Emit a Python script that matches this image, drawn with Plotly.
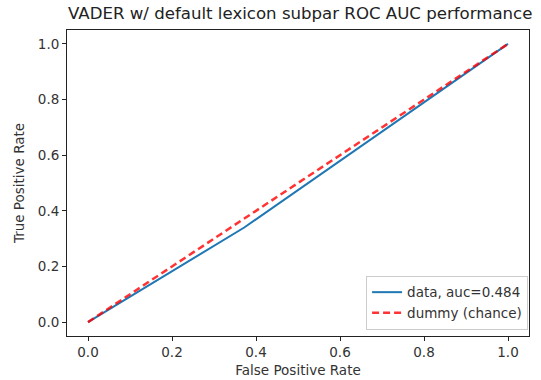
import plotly.graph_objects as go

# data
fpr = [0.0, 0.372, 1.0]
tpr = [0.0, 0.340, 1.0]
dummy_x = [0.0, 1.0]
dummy_y = [0.0, 1.0]
auc_label = "data, auc=0.484"
dummy_label = "dummy (chance)"
title = "VADER w/ default lexicon subpar ROC AUC performance"
tick_vals = [0.0, 0.2, 0.4, 0.6, 0.8, 1.0]
tick_text = ["0.0", "0.2", "0.4", "0.6", "0.8", "1.0"]

font = "DejaVu Sans"
fig = go.Figure()
fig.add_trace(go.Scatter(x=fpr, y=tpr, mode="lines", name=auc_label,
                         line=dict(color="#1f77b4", width=2)))
fig.add_trace(go.Scatter(x=dummy_x, y=dummy_y, mode="lines", name=dummy_label,
                         line=dict(color="rgba(255,0,0,0.8)", width=2.5, dash="7px,4px")))

axis_common = dict(range=[-0.05, 1.05], showgrid=False, zeroline=False,
                   showline=True, mirror=True, linecolor="#222", linewidth=1,
                   ticks="outside", ticklen=4, tickcolor="#222",
                   tickvals=tick_vals, ticktext=tick_text, automargin=False,
                   tickfont=dict(family=font, size=13.5, color="#333"))
fig.update_xaxes(title=dict(text="False Positive Rate", font=dict(family=font, size=13.5, color="#333"), standoff=6), **axis_common)
fig.update_yaxes(title=dict(text="True Positive Rate", font=dict(family=font, size=13.5, color="#333"), standoff=10), **axis_common)

fig.update_layout(
    width=541, height=380,
    margin=dict(l=67, r=12, t=30, b=44),
    paper_bgcolor="white", plot_bgcolor="white",
    title=dict(text=title, x=0.555, xanchor="center", y=0.98, yanchor="top",
               font=dict(family=font, size=16.6, color="#222")),
    showlegend=True,
    legend=dict(x=0.998, y=0.02, xanchor="right", yanchor="bottom",
                bgcolor="rgba(255,255,255,0.8)", bordercolor="#ccc", borderwidth=1,
                font=dict(family=font, size=13.5, color="#333"),
                tracegroupgap=0, itemwidth=30),
)
fig.write_html("out.html")
